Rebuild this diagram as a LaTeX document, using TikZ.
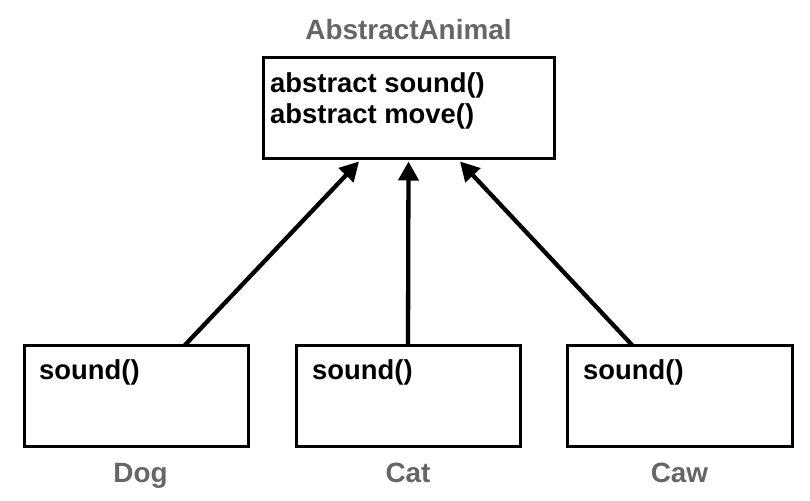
\documentclass[tikz,border=0pt]{standalone}
\usepackage{fontspec}
\setmainfont{Liberation Sans}
\usepackage{tikz}
\usetikzlibrary{positioning,calc,arrows.meta}
\definecolor{labelgray}{HTML}{666666}

\begin{document}
\begin{tikzpicture}[x=1bp,y=-1bp,
  box/.style={draw,line width=3bp,inner sep=0,outer sep=0,minimum height=101bp},
  meth/.style={anchor=base west,inner sep=0,font=\fontsize{27.5}{31}\selectfont\bfseries},
  title/.style={inner sep=0,text=labelgray,font=\fontsize{28}{32}\selectfont\bfseries},
  inh/.style={line width=4.3bp,-{Triangle[length=19bp,width=20bp]}}]
\useasboundingbox (0,0) rectangle (810,501);
% classes
\node[box,minimum width=291bp] (animal) at (408.5,108.5) {};
\node[box,minimum width=223bp] (dog) at (136.5,395.5) {};
\node[box,minimum width=224bp] (cat) at (408,395.5) {};
\node[box,minimum width=225bp] (caw) at (679.5,395.5) {};
% methods
\node[meth] (animalsound) at ($(animal.north west)+(7,35)$) {abstract sound()};
\node[meth] (animalmove) at ($(animal.north west)+(7,66)$) {abstract move()};
\node[meth] (dogsound) at ($(dog.north west)+(14,34)$) {sound()};
\node[meth] (catsound) at ($(cat.north west)+(16,34)$) {sound()};
\node[meth] (cawsound) at ($(caw.north west)+(16,34)$) {sound()};
% class names
\node[title,anchor=south,above=18bp of animal] (animalname) {AbstractAnimal};
\node[title,anchor=north,below=17bp of dog,xshift=4bp] (dogname) {Dog};
\node[title,anchor=north,below=17bp of cat] (catname) {Cat};
\node[title,anchor=north,below=17bp of caw] (cawname) {Caw};
% inheritance
\draw[inh] ($(dog.north)+(48.5,0)$) -- ($(animal.south)+(-49.5,2.5)$);
\draw[inh] (cat.north) -- ($(animal.south)+(0,2.5)$);
\draw[inh] ($(caw.north)+(-47.5,0)$) -- ($(animal.south)+(51.5,2.5)$);
\end{tikzpicture}
\end{document}
